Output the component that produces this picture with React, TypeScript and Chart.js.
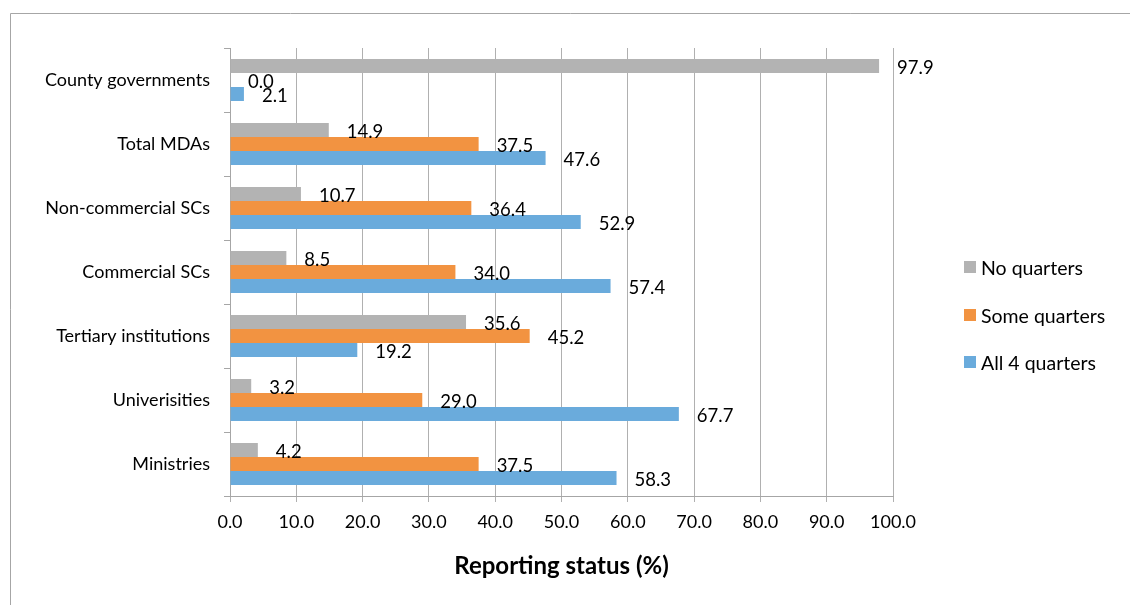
import React, { useEffect, useRef } from "react";
import { Chart, registerables } from "chart.js";

Chart.register(...registerables);

const categories = [
  "County governments",
  "Total MDAs",
  "Non-commercial SCs",
  "Commercial SCs",
  "Tertiary institutions",
  "Univerisities",
  "Ministries",
];

const noQuarters = [97.9, 14.9, 10.7, 8.5, 35.6, 3.2, 4.2];
const someQuarters = [0.0, 37.5, 36.4, 34.0, 45.2, 29.0, 37.5];
const allFourQuarters = [2.1, 47.6, 52.9, 57.4, 19.2, 67.7, 58.3];

const seriesNames = ["No quarters", "Some quarters", "All 4 quarters"];
const seriesColors = ["#B3B3B3", "#F29341", "#6AABDC"];

const xTicks = [0, 10, 20, 30, 40, 50, 60, 70, 80, 90, 100];

const FONT = "Lato, 'Open Sans', sans-serif";

// Frame around the chart (left and top edges visible)
const framePlugin = {
  id: "frame",
  beforeDraw(chart: any) {
    const ctx = chart.ctx;
    ctx.save();
    ctx.fillStyle = "#ffffff";
    ctx.fillRect(0, 0, chart.width, chart.height);
    ctx.strokeStyle = "#A6A6A6";
    ctx.lineWidth = 1;
    ctx.beginPath();
    ctx.moveTo(10.5, chart.height);
    ctx.lineTo(10.5, 13.5);
    ctx.lineTo(chart.width, 13.5);
    ctx.stroke();
    ctx.restore();
  },
};

// Value labels just past the end of each bar
const valueLabelPlugin = {
  id: "valueLabels",
  afterDatasetsDraw(chart: any) {
    const ctx = chart.ctx;
    ctx.save();
    ctx.font = `18.5px ${FONT}`;
    ctx.fillStyle = "#000000";
    ctx.textAlign = "left";
    ctx.textBaseline = "middle";
    chart.data.datasets.forEach((ds: any, di: number) => {
      const meta = chart.getDatasetMeta(di);
      meta.data.forEach((el: any, i: number) => {
        const v = ds.data[i];
        if (v === null || v === undefined) return;
        ctx.fillText(Number(v).toFixed(1), el.x + 18, el.y + 2);
      });
    });
    ctx.restore();
  },
};

// Legend column on the right
const legendPlugin = {
  id: "sideLegend",
  afterDraw(chart: any) {
    const ctx = chart.ctx;
    ctx.save();
    ctx.font = `19.5px ${FONT}`;
    ctx.textAlign = "left";
    ctx.textBaseline = "middle";
    const x = 964;
    const y0 = 267;
    const step = 47.5;
    seriesNames.forEach((name, i) => {
      const y = Math.round(y0 + i * step);
      ctx.fillStyle = seriesColors[i];
      ctx.fillRect(x, y - 6, 12, 12);
      ctx.fillStyle = "#000000";
      ctx.fillText(name, x + 17, y + 2);
    });
    ctx.restore();
  },
};

export default function App() {
  const canvasRef = useRef<HTMLCanvasElement | null>(null);

  useEffect(() => {
    const canvas = canvasRef.current;
    if (!canvas) return;
    const chart = new Chart(canvas, {
      type: "bar",
      data: {
        labels: categories,
        datasets: [
          { label: seriesNames[0], data: noQuarters, backgroundColor: seriesColors[0] },
          { label: seriesNames[1], data: someQuarters, backgroundColor: seriesColors[1] },
          { label: seriesNames[2], data: allFourQuarters, backgroundColor: seriesColors[2] },
        ],
      },
      options: {
        indexAxis: "y",
        responsive: false,
        animation: false,
        devicePixelRatio: 1,
        layout: { padding: { left: 0, right: 237, top: 48, bottom: 24 } },
        datasets: {
          bar: { categoryPercentage: 42 / 64, barPercentage: 1 },
        },
        plugins: {
          legend: { display: false },
          tooltip: { enabled: false },
        },
        scales: {
          x: {
            min: 0,
            max: 100,
            afterBuildTicks(scale: any) {
              scale.ticks = xTicks.map((v) => ({ value: v }));
            },
            afterFit(scale: any) {
              scale.height = 605 - 24 - 48 - 448;
            },
            ticks: {
              font: { family: FONT, size: 18 },
              color: "#000000",
              padding: 9,
              callback: (v: any) => Number(v).toFixed(1),
            },
            grid: {
              color: "#B0B0B0",
              lineWidth: 1,
              tickLength: 6,
              drawOnChartArea: true,
            },
            border: { color: "#A6A6A6", width: 1 },
            title: {
              display: true,
              text: "Reporting status (%)",
              font: { family: FONT, size: 24, weight: "bold" },
              color: "#000000",
              padding: { top: 0, bottom: 0 },
            },
          },
          y: {
            afterFit(scale: any) {
              scale.width = 230;
            },
            ticks: {
              font: { family: FONT, size: 18 },
              color: "#000000",
              padding: 14,
            },
            grid: {
              offset: true,
              drawOnChartArea: false,
              tickLength: 6,
              color: "#A6A6A6",
            },
            border: { color: "#A6A6A6", width: 1 },
          },
        },
      },
      plugins: [framePlugin, valueLabelPlugin, legendPlugin],
    });
    return () => chart.destroy();
  }, []);

  return (
    <div style={{ position: "fixed", left: 0, top: 0, width: 1130, height: 605, background: "#fff" }}>
      <canvas ref={canvasRef} width={1130} height={605} style={{ display: "block", width: 1130, height: 605 }} />
    </div>
  );
}
